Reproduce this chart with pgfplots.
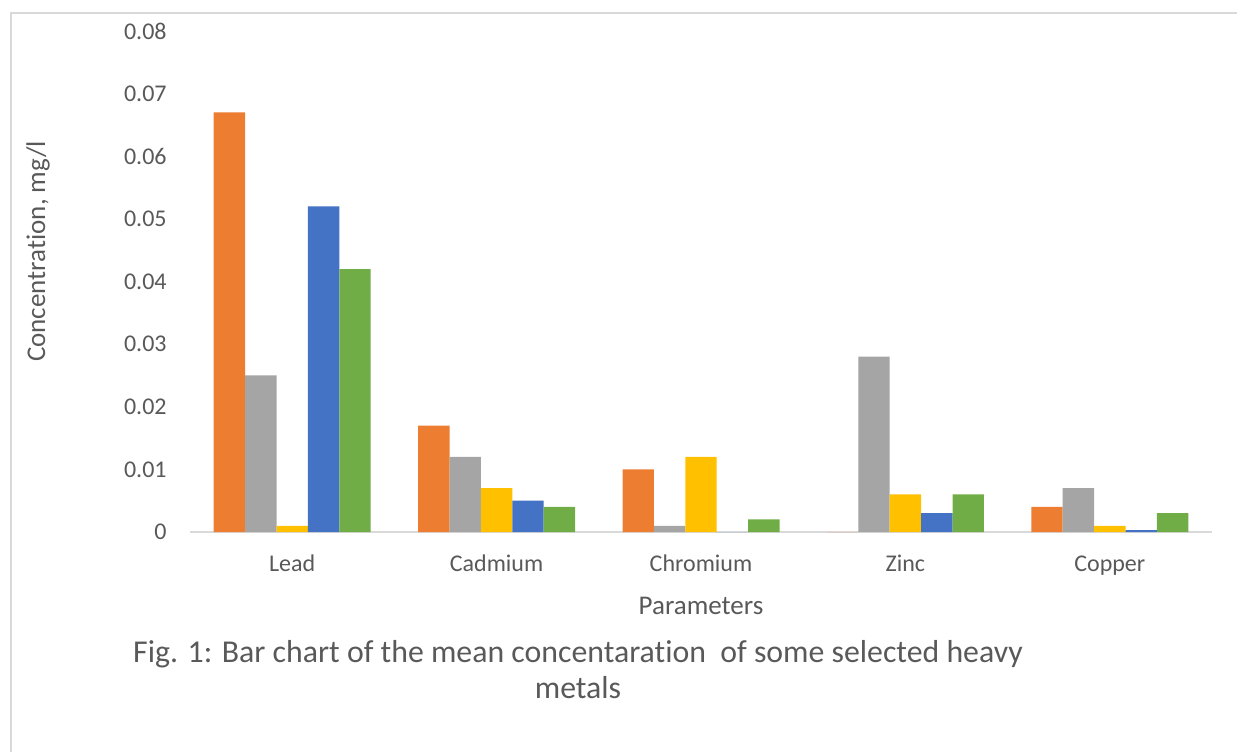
\documentclass[border=0pt]{standalone}
\usepackage{pgfplots}
\pgfplotsset{compat=1.18}
\usepackage{fontspec}
\setmainfont{Carlito}[Ligatures=NoCommon]
\definecolor{cOr}{HTML}{ED7D31}
\definecolor{cGr}{HTML}{A5A5A5}
\definecolor{cYe}{HTML}{FFC000}
\definecolor{cBl}{HTML}{4472C4}
\definecolor{cGn}{HTML}{70AD47}
\definecolor{txt}{HTML}{595959}
\definecolor{frm}{HTML}{D9D9D9}
\begin{document}
\begin{tikzpicture}
\useasboundingbox (0,0) rectangle (618.5pt,-376pt);
\draw[frm, line width=1pt] (5.5pt,-376pt) -- (5.5pt,-6.5pt) -- (618.5pt,-6.5pt);
\begin{axis}[
  at={(95pt,-266pt)}, anchor=south west,
  scale only axis, width=511pt, height=250.5pt,
  ybar=0pt, bar width=15.7pt,
  xmin=-0.5, xmax=4.5, ymin=0, ymax=0.08,
  axis x line=bottom, axis y line=left,
  x axis line style={draw=frm, line width=1pt, -},
  y axis line style={draw=none},
  major tick length=0pt, tick style={draw=none},
  xtick={0,1,2,3,4}, xticklabels={Lead,Cadmium,Chromium,Zinc,Copper},
  ytick={0,0.01,0.02,0.03,0.04,0.05,0.06,0.07,0.08},
  yticklabels={0,0.01,0.02,0.03,0.04,0.05,0.06,0.07,0.08},
  scaled y ticks=false,
  tick label style={font=\fontsize{12}{14}\selectfont, text=txt},
  yticklabel style={anchor=east, inner sep=0pt, xshift=-11.5pt},
  xticklabel style={anchor=base, inner sep=0pt, yshift=-19.5pt},
  every axis plot/.append style={draw=none},
]
\addplot[fill=cOr] coordinates {(0,0.067) (1,0.017) (2,0.010) (3,0) (4,0.004)};
\addplot[fill=cGr] coordinates {(0,0.025) (1,0.012) (2,0.001) (3,0.028) (4,0.007)};
\addplot[fill=cYe] coordinates {(0,0.001) (1,0.007) (2,0.012) (3,0.006) (4,0.001)};
\addplot[fill=cBl] coordinates {(0,0.052) (1,0.005) (2,0) (3,0.003) (4,0.0003)};
\addplot[fill=cGn] coordinates {(0,0.042) (1,0.004) (2,0.002) (3,0.006) (4,0.003)};
\end{axis}
\node[rotate=90, text=txt, font=\fontsize{13.5}{15}\selectfont] at (19pt,-125.75pt) {Concentration, mg/l};
\node[anchor=base, text=txt, font=\fontsize{13.5}{15}\selectfont, inner sep=0pt] at (350.5pt,-307pt) {Parameters};
\node[anchor=base, text=txt, font=\fontsize{15.9}{18}\selectfont, inner sep=0pt] at (289pt,-331pt) {Fig. 1: Bar chart of the mean concentaration\ \ of some selected heavy};
\node[anchor=base, text=txt, font=\fontsize{15.9}{18}\selectfont, inner sep=0pt] at (289pt,-349pt) {metals};
\end{tikzpicture}
\end{document}
